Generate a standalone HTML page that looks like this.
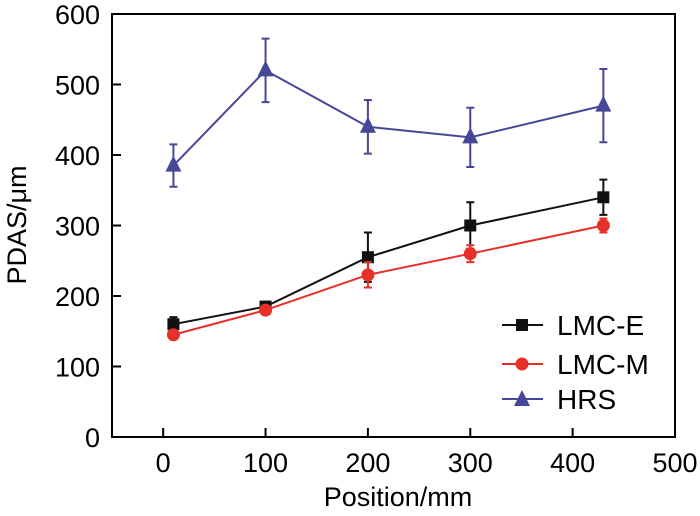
<!DOCTYPE html>
<html><head><meta charset="utf-8"><style>
html,body{margin:0;padding:0;background:#fff;}
svg{display:block;font-family:"Liberation Sans",Arial,sans-serif;}
</style></head><body>
<svg id="chart" width="700" height="516" viewBox="0 0 700 516" xmlns="http://www.w3.org/2000/svg">
<rect x="112" y="14" width="563" height="423" fill="none" stroke="#000" stroke-width="2"/>
<g id="axes"></g>
<g id="series"></g>
<text x="398" y="506" font-size="27" text-anchor="middle">Position/mm</text>
<text transform="translate(26,225) rotate(-90)" font-size="27" text-anchor="middle">PDAS/μm</text>
</svg>
<script>
const positions = [10, 100, 200, 300, 430];
const lmcE = [160, 185, 255, 300, 340];
const lmcEErr = [10, 5, 35, 33, 25];
const lmcM = [145, 180, 230, 260, 300];
const lmcMErr = [5, 5, 18, 12, 10];
const hrs = [385, 520, 440, 425, 470];
const hrsErr = [30, 45, 38, 42, 52];
const xTicks = [0, 100, 200, 300, 400, 500];
const yTicks = [0, 100, 200, 300, 400, 500, 600];

const NS = "http://www.w3.org/2000/svg";
const X0 = 112, X1 = 675, Y0 = 437, Y1 = 14;
const xMin = -50, xMax = 500, yMin = 0, yMax = 600;
function xs(v){ return X0 + (v - xMin) / (xMax - xMin) * (X1 - X0); }
function ys(v){ return Y0 - (v - yMin) / (yMax - yMin) * (Y0 - Y1); }
function mk(tag, attrs, parent){
  const e = document.createElementNS(NS, tag);
  for (const k in attrs) e.setAttribute(k, attrs[k]);
  parent.appendChild(e);
  return e;
}
const axes = document.getElementById('axes');
xTicks.forEach(t => {
  const x = xs(t);
  const l = mk('line', {x1:x, x2:x, y1:Y0, y2:Y0-9, stroke:'#000', 'stroke-width':2}, axes);
  
  
  const tx = mk('text', {x:x, y:472, 'font-size':27, 'text-anchor':'middle'}, axes);
  tx.textContent = t;
  
  
});
yTicks.forEach(t => {
  const y = ys(t);
  const l = mk('line', {x1:X0, x2:X0+9, y1:y, y2:y, stroke:'#000', 'stroke-width':2}, axes);
  
  
  const tx = mk('text', {x:100, y:y+10, 'font-size':27, 'text-anchor':'end'}, axes);
  tx.textContent = t;
  
  
});
const sg = document.getElementById('series');
function marker(shape, cx, cy, color, parent){
  let m;
  if (shape === 'square') m = mk('rect', {x:cx-6, y:cy-6, width:12, height:12, fill:color}, parent);
  else if (shape === 'circle') m = mk('circle', {cx:cx, cy:cy, r:6.5, fill:color}, parent);
  else m = mk('polygon', {points:`${cx},${cy-10} ${cx-8},${cy+6} ${cx+8},${cy+6}`, fill:color}, parent);
  return m;
}
function drawSeries(name, vals, errs, color, shape){
  const g = mk('g', {}, sg);
  
  
  const pts = positions.map((p,i)=>xs(p)+','+ys(vals[i])).join(' ');
  const pl = mk('polyline', {points:pts, fill:'none', stroke:color, 'stroke-width':2}, g);
  
  
  positions.forEach((p,i)=>{
    const x = xs(p), yt = ys(vals[i]+errs[i]), yb = ys(vals[i]-errs[i]);
    const eb = mk('path', {d:`M${x},${yt}V${yb}M${x-4},${yt}H${x+4}M${x-4},${yb}H${x+4}`, stroke:color, 'stroke-width':2, fill:'none'}, g);
    
    
    const m = marker(shape, x, ys(vals[i]), color, g);
    
    
  });
}
drawSeries('lmc-e', lmcE, lmcEErr, '#111', 'square');
drawSeries('lmc-m', lmcM, lmcMErr, '#e8302a', 'circle');
drawSeries('hrs', hrs, hrsErr, '#47479a', 'triangle');

const legend = [['LMC-E','#111','square',325],['LMC-M','#e8302a','circle',364],['HRS','#47479a','triangle',399]];
const lg = mk('g', {}, sg);


legend.forEach(([lab,color,shape,y])=>{
  const e = mk('g', {}, lg);
  
  
  mk('line', {x1:502, x2:543, y1:y, y2:y, stroke:color, 'stroke-width':2}, e);
  marker(shape, 522, y + (shape==='triangle'?1:0), color, e);
  const t = mk('text', {x:557, y:y+10, 'font-size':28}, e);
  t.textContent = lab;
});
</script>
</body></html>
